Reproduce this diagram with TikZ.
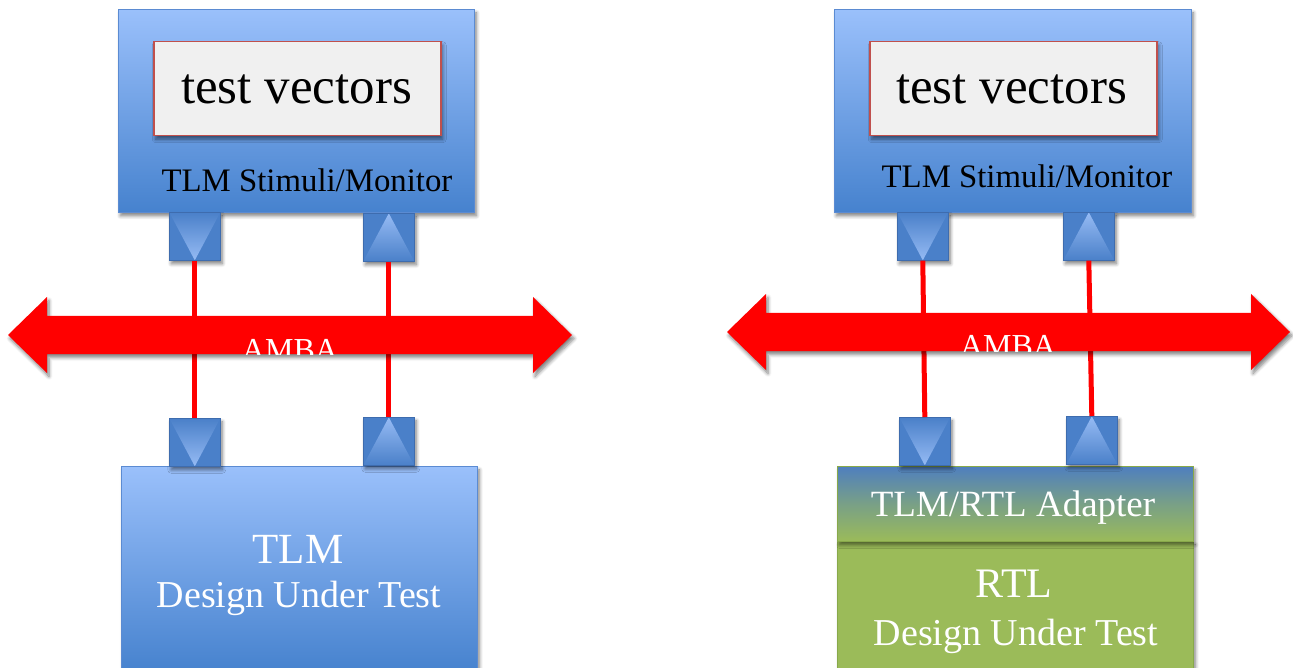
\documentclass[tikz,border=0pt]{standalone}
\usepackage{fontspec}
\setmainfont{Liberation Serif}
\usetikzlibrary{shadows.blur}

\definecolor{boxlight}{HTML}{9AC0FB}
\definecolor{boxdark}{HTML}{4682CE}
\definecolor{boxedge}{HTML}{5B8BD2}
\definecolor{portfill}{HTML}{4A80C9}
\definecolor{portlight}{HTML}{96BBF4}
\definecolor{portedge}{HTML}{3E6CAE}
\definecolor{tvfill}{HTML}{F0F0F0}
\definecolor{tvedge}{HTML}{C0504D}
\definecolor{rtlgreen}{HTML}{9BBB59}
\definecolor{rtledge}{HTML}{88A94A}
\definecolor{adblue}{HTML}{4F7FBE}
\definecolor{busred}{HTML}{FF0000}

\tikzset{
  softshadow/.style={blur shadow={shadow xshift=2pt, shadow yshift=-3.5pt,
      shadow blur steps=6, shadow opacity=50, shadow blur radius=3.5pt}},
  block/.style={rectangle, inner sep=0pt, anchor=north west, softshadow},
  stimbox/.style={block, draw=boxedge, line width=0.8pt,
      top color=boxlight, bottom color=boxdark},
  vecbox/.style={block, draw=tvedge, line width=1.5pt, fill=tvfill},
  rtlbox/.style={block, draw=rtledge, line width=0.8pt, fill=rtlgreen},
  adapterbox/.style={block, draw=rtledge, line width=0.8pt,
      top color=adblue, bottom color=rtlgreen, middle color=adblue!45!rtlgreen},
  port/.style={rectangle, inner sep=0pt, anchor=north west,
      minimum width=51pt, minimum height=48pt,
      draw=portedge, line width=0.6pt, fill=portfill, softshadow},
  portdown/.style={port, path picture={
      \shade[top color=portfill, bottom color=portlight]
        (path picture bounding box.north west) --
        (path picture bounding box.north east) --
        (path picture bounding box.south) -- cycle;}},
  portup/.style={port, path picture={
      \shade[top color=portlight, bottom color=portfill]
        (path picture bounding box.south west) --
        (path picture bounding box.south east) --
        (path picture bounding box.north) -- cycle;}},
  link/.style={draw=busred, line width=5pt},
  bus/.style={fill=busred, softshadow},
  lbl/.style={anchor=base, inner sep=0pt, font=\fontsize{#1}{#1}\selectfont},
}

% double-headed bus arrow: left tip x, right tip x, centre y
\newcommand\ambabus[3]{%
  \fill[bus] (#1,#3) -- (#1+39,#3-38) -- (#1+39,#3-19) -- (#2-39,#3-19)
    -- (#2-39,#3-38) -- (#2,#3) -- (#2-39,#3+38) -- (#2-39,#3+19)
    -- (#1+39,#3+19) -- (#1+39,#3+38) -- cycle;}

% bus name, cut off at the lower edge of the shaft
% (left tip x, right tip x, centre y, node name, text x, text baseline)
\newcommand\busname[6]{%
  \begin{scope}
    \clip (#1+39,#3-19) rectangle (#2-39,#3+19);
    \node[lbl=32, text=white] (#4) at (#5,#6) {AMBA};
  \end{scope}}

\begin{document}
\begin{tikzpicture}[x=1pt, y=-1pt]
  \useasboundingbox (0,0) rectangle (1293,668);
  \clip (0,0) rectangle (1293,668);

  % ---------- left: TLM test bench ----------
  \node[stimbox, minimum width=356pt, minimum height=203pt] (stimL) at (118,9) {};
  \node[vecbox, minimum width=287pt, minimum height=94pt] (vecL) at (153,41) {};
  \node[portdown] (pTL1) at (169,212) {};
  \node[portup]   (pTL2) at (363,213) {};

  \node[stimbox, minimum width=356pt, minimum height=206pt] (dutL) at (121,466) {};
  \node[portdown] (pBL1) at (169,418) {};
  \node[portup]   (pBL2) at (363,417) {};

  % ---------- right: RTL test bench ----------
  \node[stimbox, minimum width=357pt, minimum height=203pt] (stimR) at (834,9) {};
  \node[vecbox, minimum width=287pt, minimum height=94pt] (vecR) at (869,41) {};
  \node[portdown] (pTR1) at (897,212) {};
  \node[portup]   (pTR2) at (1063,212) {};

  \node[rtlbox, minimum width=356pt, minimum height=200pt] (rtlR) at (837,541) {};
  \node[adapterbox, minimum width=356pt, minimum height=75pt] (adR) at (837,466) {};
  \node[portdown] (pBR1) at (899,417) {};
  \node[portup]   (pBR2) at (1066,416) {};

  % ---------- links through the bus ----------
  \draw[link] (pTL1.south) -- (pBL1.north);
  \draw[link] (pTL2.south) -- (pBL2.north);
  \draw[link] (pTR1.south) -- (pBR1.north);
  \draw[link] (pTR2.south) -- (pBR2.north);

  % ---------- AMBA buses ----------
  \ambabus{8}{572}{335}
  \ambabus{727}{1290}{332}
  \busname{8}{572}{335}{ambaL}{290}{360}
  \busname{727}{1290}{332}{ambaR}{1008}{356}

  % ---------- labels ----------
  \node[lbl=51] (tvL) at (296.5,104) {test vectors};
  \node[lbl=51] (tvR) at (1011.5,104) {test vectors};
  \node[lbl=32.8] (smL) at (307,192) {TLM Stimuli/Monitor};
  \node[lbl=32.8] (smR) at (1027,188) {TLM Stimuli/Monitor};

  \node[lbl=43, text=white] (tlmL) at (298,563) {TLM};
  \node[lbl=38, text=white] (dutTxtL) at (299,607) {Design Under Test};

  \node[lbl=37, text=white] (adTxt) at (1013,516) {TLM/RTL Adapter};
  \node[lbl=42, text=white] (rtlTxt) at (1014,597) {RTL};
  \node[lbl=38, text=white] (dutTxtR) at (1016,645) {Design Under Test};
\end{tikzpicture}
\end{document}
